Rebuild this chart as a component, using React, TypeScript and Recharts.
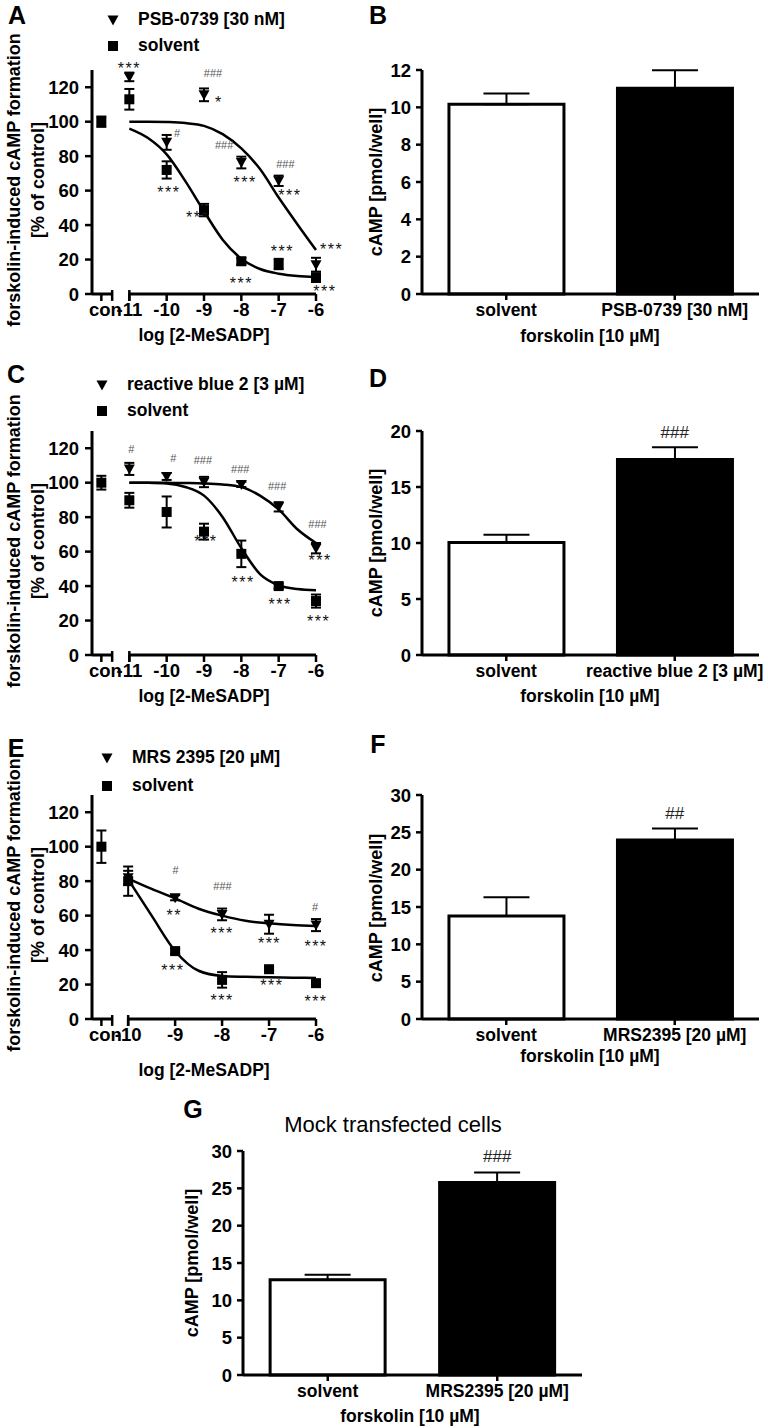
import React from 'react';
import {
  ComposedChart, BarChart, Bar, Cell, Line, Scatter, XAxis, YAxis,
  ErrorBar, ReferenceLine, ReferenceDot,
} from 'recharts';

const FONT = '"Liberation Sans", Arial, Helvetica, sans-serif';

type Anno = [number, number, string];

// ---- A: 2-MeSADP curve, PSB-0739 vs solvent ----
const concA = [-11, -10, -9, -8, -7, -6];
const psbMeanA = [126, 88, 115.6, 76.3, 65.7, 17];
const psbErrA = [2.5, 4.3, 3.7, 3.4, 3, 4];
const solMeanA = [113, 72, 48.7, 19, 17.4, 9.5];
const solErrA = [6, 5, 3.6, 2, 3, 2.5];
const ctrlA = [100];
const ctrlErrA = [3];
const fitXA = [-11, -10.5, -10, -9.5, -9, -8.5, -8, -7.5, -7, -6.5, -6];
const psbFitA = [100, 100, 99.8, 99.2, 97.6, 92.8, 84.5, 72.5, 56, 40.5, 25.5];
const solFitA = [96, 90.5, 81, 65.5, 48, 31.5, 20.5, 14.5, 11.8, 10.5, 10];
const annosA: Anno[] = [
  [-11, 133, '***'], [-8.76, 128.5, '###'], [-8.6, 113, '*'], [-9.72, 93.7, '#'],
  [-8.46, 86.6, '###'], [-7.9, 66.7, '***'], [-6.82, 75.7, '###'], [-6.7, 59.5, '***'],
  [-9.94, 61, '***'], [-9.17, 46.4, '***'], [-6.9, 27, '***'], [-8.0, 8.1, '***'],
  [-5.58, 28, '***'], [-5.76, 3.5, '***'],
];

// ---- C: reactive blue 2 vs solvent ----
const concC = [-11, -10, -9, -8, -7, -6];
const rbMeanC = [108, 103.6, 100.4, 99, 86, 62];
const rbErrC = [3.5, 2, 3, 1.5, 2.7, 3];
const solMeanC = [89.8, 83, 71.6, 58.7, 40, 31.3];
const solErrC = [4.3, 9, 4.6, 7.7, 1.5, 3.8];
const ctrlC = [100];
const ctrlErrC = [4];
const fitXC = [-11, -10.5, -10, -9.5, -9, -8.5, -8, -7.5, -7, -6.5, -6];
const rbFitC = [100, 100, 99.9, 99.8, 99.6, 99, 97.5, 92.5, 84.5, 73, 65];
const solFitC = [100, 99.9, 99.5, 97.5, 92.5, 80, 62, 47, 40.5, 38.3, 37.6];
const annosC: Anno[] = [
  [-10.95, 119.6, '#'], [-9.82, 114.4, '#'], [-9.03, 112.9, '###'], [-8.03, 108, '###'],
  [-7.04, 97.9, '###'], [-5.96, 75.8, '###'], [-8.95, 67.8, '***'], [-7.95, 44.3, '***'],
  [-5.89, 57.2, '***'], [-6.96, 31.3, '***'], [-5.93, 21.3, '***'],
];

// ---- E: MRS 2395 vs solvent ----
const concE = [-10, -9, -8, -7, -6];
const mrsMeanE = [82, 70.4, 60.7, 55, 54.5];
const mrsErrE = [4, 1.5, 3.4, 5.5, 3.5];
const solMeanE = [80, 39.4, 22.7, 28.9, 20.8];
const solErrE = [8.5, 1.5, 4.5, 1, 1];
const ctrlE = [100];
const ctrlErrE = [9.4];
const fitXE = [-10, -9.5, -9, -8.5, -8, -7.5, -7, -6.5, -6];
const mrsFitE = [81.5, 75.5, 70, 64, 60, 57, 55.5, 54.5, 54];
const solFitE = [81, 60, 39.5, 28, 25, 24.5, 24.2, 24, 23.8];
const annosE: Anno[] = [
  [-8.99, 86.2, '#'], [-9.02, 62.1, '**'], [-7.99, 77.1, '###'], [-8.0, 51.5, '***'],
  [-6.99, 45.8, '***'], [-6.02, 65, '#'], [-6, 44.2, '***'], [-9.05, 30.4, '***'],
  [-6.94, 21.7, '***'], [-8, 13.1, '***'], [-6, 12.1, '***'],
];

const doseTicksY = [0, 20, 40, 60, 80, 100, 120];

// ---- bar panels ----
const catsB = ['solvent', 'PSB-0739 [30 nM]'];
const valsB = [10.17, 11.02];
const errsB = [0.57, 0.96];
const ticksB = [0, 2, 4, 6, 8, 10, 12];

const catsD = ['solvent', 'reactive blue 2 [3 µM]'];
const valsD = [10.05, 17.45];
const errsD = [0.68, 1.1];
const ticksD = [0, 5, 10, 15, 20];

const catsF = ['solvent', 'MRS2395 [20 µM]'];
const valsF = [13.8, 23.96];
const errsF = [2.5, 1.55];
const ticksF = [0, 5, 10, 15, 20, 25, 30];

const catsG = ['solvent', 'MRS2395 [20 µM]'];
const valsG = [12.76, 25.78];
const errsG = [0.67, 1.33];
const ticksG = [0, 5, 10, 15, 20, 25, 30];

const tickStyle = { fontSize: 18.5, fontWeight: 'bold', fill: '#000', fontFamily: FONT };
const axisLine = { stroke: '#000', strokeWidth: 3 };
const tickLine = { stroke: '#000', strokeWidth: 2.5 };

function TriDown(p: any) {
  const { cx, cy } = p;
  if (cx == null || cy == null) return null;
  return <path d={`M${cx - 5.5},${cy - 4.5}L${cx + 5.5},${cy - 4.5}L${cx},${cy + 5.5}Z`} fill="#000" />;
}

function Sq(p: any) {
  const { cx, cy } = p;
  if (cx == null || cy == null) return null;
  return <rect x={cx - 5} y={cy - 5} width={10} height={10} fill="#000" />;
}

// "con" sits a little right so its n hides the minus of the first dose label
function DoseTick(p: any) {
  const { x, y, payload, conX } = p;
  const isCon = payload.value === conX;
  return (
    <text x={x + (isCon ? 4 : 0)} y={y} dy="0.71em" textAnchor="middle" {...tickStyle}>
      {isCon ? 'con' : String(payload.value)}
    </text>
  );
}

function annoShape(text: string, big = false) {
  return (p: any) => {
    const hash = text[0] === '#';
    const size = big ? 17 : hash ? 11 : 16;
    return (
      <text x={p.cx} y={p.cy} dy={hash ? 0 : '0.23em'} textAnchor="middle" dominantBaseline="central"
        fontFamily={FONT} fontSize={size} letterSpacing={hash ? 0 : 1.5} fill={big ? '#222' : hash ? '#555' : '#111'}>
        {text}
      </text>
    );
  };
}

function Txt({ x, y, children, size = 17.5, weight = 'bold', rotate = false, color = '#000' }: any) {
  return (
    <div style={{
      position: 'absolute', left: x, top: y, transform: `translate(-50%, -50%)${rotate ? ' rotate(-90deg)' : ''}`,
      fontSize: size, fontWeight: weight, fontFamily: FONT, whiteSpace: 'nowrap', lineHeight: 1, color,
    }}>{children}</div>
  );
}

function LegendRow({ x, y, label, kind }: { x: number; y: number; label: string; kind: 'tri' | 'sq' }) {
  return (
    <>
      <svg style={{ position: 'absolute', left: x - 7, top: y - 7 }} width={14} height={14}>
        {kind === 'tri'
          ? <path d="M1.5,2.5L12.5,2.5L7,12.5Z" fill="#000" />
          : <rect x={2} y={2} width={10} height={10} fill="#000" />}
      </svg>
      <div style={{
        position: 'absolute', left: x + 25, top: y, transform: 'translateY(-50%)', fontSize: 17.5,
        fontWeight: 'bold', fontFamily: FONT, whiteSpace: 'nowrap', lineHeight: 1,
      }}>{label}</div>
    </>
  );
}

interface DoseProps {
  top: number; xMin: number; conX: number; conEnd: number; mainStart: number;
  conc: number[]; triMean: number[]; triErr: number[]; sqMean: number[]; sqErr: number[];
  ctrl: number[]; ctrlErr: number[]; fitX: number[]; triFit: number[]; sqFit: number[]; annos: Anno[];
}

function DosePanel(props: DoseProps) {
  const { top, xMin, conX, conEnd, mainStart, conc, triMean, triErr, sqMean, sqErr, ctrl, ctrlErr, fitX, triFit, sqFit, annos } = props;
  const triPts = conc.map((x, i) => ({ x, y: triMean[i], e: triErr[i] }));
  const sqPts = [{ x: conX, y: ctrl[0], e: ctrlErr[0] }, ...conc.map((x, i) => ({ x, y: sqMean[i], e: sqErr[i] }))];
  const triLine = fitX.map((x, i) => ({ x, y: triFit[i] }));
  const sqLine = fitX.map((x, i) => ({ x, y: sqFit[i] }));
  return (
    <div style={{ position: 'absolute', left: 0, top, width: 370, height: 330 }}>
      <ComposedChart width={370} height={330} margin={{ top: 70, right: 54, bottom: 6, left: 42 }}>
        <XAxis dataKey="x" type="number" domain={[xMin, -6]} ticks={[conX, ...conc]} interval={0}
          axisLine={false} tickLine={tickLine} tickSize={7} tickMargin={2} height={30}
          tick={(p: any) => <DoseTick {...p} conX={conX} />} />
        <YAxis dataKey="y" type="number" domain={[0, 130]} ticks={doseTicksY} interval={0} width={50}
          axisLine={axisLine} tickLine={tickLine} tickSize={7} tickMargin={6} tick={tickStyle} />
        <ReferenceLine segment={[{ x: xMin, y: 0 }, { x: conEnd, y: 0 }]} stroke="#000" strokeWidth={3} ifOverflow="visible" />
        <ReferenceLine segment={[{ x: conEnd, y: -4 }, { x: conEnd, y: 2.3 }]} stroke="#000" strokeWidth={2.5} ifOverflow="visible" />
        <ReferenceLine segment={[{ x: mainStart, y: 0 }, { x: -6, y: 0 }]} stroke="#000" strokeWidth={3} ifOverflow="visible" />
        <ReferenceLine segment={[{ x: mainStart, y: -4 }, { x: mainStart, y: 2.3 }]} stroke="#000" strokeWidth={2.5} ifOverflow="visible" />
        <Line data={triLine} dataKey="y" type="monotone" dot={false} stroke="#000" strokeWidth={2.5} isAnimationActive={false} />
        <Line data={sqLine} dataKey="y" type="monotone" dot={false} stroke="#000" strokeWidth={2.5} isAnimationActive={false} />
        <Scatter data={triPts} dataKey="y" shape={TriDown} isAnimationActive={false}>
          <ErrorBar dataKey="e" direction="y" width={5} stroke="#000" strokeWidth={2} />
        </Scatter>
        <Scatter data={sqPts} dataKey="y" shape={Sq} isAnimationActive={false}>
          <ErrorBar dataKey="e" direction="y" width={5} stroke="#000" strokeWidth={2} />
        </Scatter>
        {annos.map(([x, y, t], i) => (
          <ReferenceDot key={i} x={x} y={y} r={0} ifOverflow="visible" shape={annoShape(t)} />
        ))}
      </ComposedChart>
    </div>
  );
}

interface BarProps {
  left: number; top: number; width: number; marginLeft: number; marginRight: number;
  cats: string[]; vals: number[]; errs: number[]; ticks: number[]; mark?: string; markY?: number;
}

function BarPanel({ left, top, width, marginLeft, marginRight, cats, vals, errs, ticks, mark, markY }: BarProps) {
  const rows = cats.map((name, i) => ({ name, v: vals[i], e: [0, errs[i]] }));
  return (
    <div style={{ position: 'absolute', left, top, width, height: 330 }}>
      <BarChart width={width} height={330} data={rows} barCategoryGap="16%"
        margin={{ top: 70, right: marginRight, bottom: 6, left: marginLeft }}>
        <XAxis dataKey="name" interval={0} height={30} axisLine={axisLine} tickLine={tickLine} tickSize={6} tickMargin={4}
          tick={{ ...tickStyle, fontSize: 17.5 }} />
        <YAxis type="number" domain={[0, ticks[ticks.length - 1]]} ticks={ticks} interval={0} width={50}
          axisLine={axisLine} tickLine={tickLine} tickSize={6} tickMargin={5} tick={tickStyle} />
        <Bar dataKey="v" stroke="#000" strokeWidth={3} isAnimationActive={false}>
          {rows.map((r, i) => <Cell key={r.name} fill={i === 0 ? '#fff' : '#000'} />)}
          <ErrorBar dataKey="e" direction="y" width={23} stroke="#000" strokeWidth={2} />
        </Bar>
        {mark && markY != null && (
          <ReferenceDot x={cats[1]} y={markY} r={0} ifOverflow="visible" shape={annoShape(mark, true)} />
        )}
      </BarChart>
    </div>
  );
}

export default function App() {
  return (
    <div style={{ position: 'absolute', left: 0, top: 0, width: 768, height: 1428, background: '#fff', overflow: 'hidden', fontFamily: FONT }}>
      {/* A */}
      <DosePanel top={0} xMin={-12} conX={-11.75} conEnd={-11.46} mainStart={-11} conc={concA}
        triMean={psbMeanA} triErr={psbErrA} sqMean={solMeanA} sqErr={solErrA} ctrl={ctrlA} ctrlErr={ctrlErrA}
        fitX={fitXA} triFit={psbFitA} sqFit={solFitA} annos={annosA} />
      <Txt x={17} y={15} size={25}>A</Txt>
      <LegendRow x={113} y={20} label="PSB-0739 [30 nM]" kind="tri" />
      <LegendRow x={113} y={46} label="solvent" kind="sq" />
      <Txt x={14} y={180} size={18} rotate>forskolin-induced cAMP formation</Txt>
      <Txt x={38} y={180} size={18} rotate>[% of control]</Txt>
      <Txt x={204} y={336}>log [2-MeSADP]</Txt>

      {/* B */}
      <BarPanel left={370} top={0} width={398} marginLeft={2} marginRight={9} cats={catsB} vals={valsB} errs={errsB} ticks={ticksB} />
      <Txt x={378} y={15} size={25}>B</Txt>
      <Txt x={376} y={182} size={18} rotate>cAMP [pmol/well]</Txt>
      <Txt x={590} y={337}>forskolin [10 µM]</Txt>

      {/* C */}
      <DosePanel top={361} xMin={-12} conX={-11.75} conEnd={-11.46} mainStart={-11} conc={concC}
        triMean={rbMeanC} triErr={rbErrC} sqMean={solMeanC} sqErr={solErrC} ctrl={ctrlC} ctrlErr={ctrlErrC}
        fitX={fitXC} triFit={rbFitC} sqFit={solFitC} annos={annosC} />
      <Txt x={16} y={374} size={25}>C</Txt>
      <LegendRow x={102} y={385} label="reactive blue 2 [3 µM]" kind="tri" />
      <LegendRow x={102} y={411} label="solvent" kind="sq" />
      <Txt x={14} y={541} size={18} rotate>forskolin-induced cAMP formation</Txt>
      <Txt x={38} y={541} size={18} rotate>[% of control]</Txt>
      <Txt x={204} y={697}>log [2-MeSADP]</Txt>

      {/* D */}
      <BarPanel left={370} top={361} width={398} marginLeft={2} marginRight={9} cats={catsD} vals={valsD} errs={errsD} ticks={ticksD} mark="###" markY={19.9} />
      <Txt x={378} y={378} size={25}>D</Txt>
      <Txt x={376} y={543} size={18} rotate>cAMP [pmol/well]</Txt>
      <Txt x={590} y={697}>forskolin [10 µM]</Txt>

      {/* E */}
      <DosePanel top={725} xMin={-10.77} conX={-10.57} conEnd={-10.34} mainStart={-10} conc={concE}
        triMean={mrsMeanE} triErr={mrsErrE} sqMean={solMeanE} sqErr={solErrE} ctrl={ctrlE} ctrlErr={ctrlErrE}
        fitX={fitXE} triFit={mrsFitE} sqFit={solFitE} annos={annosE} />
      <Txt x={16} y={748} size={25}>E</Txt>
      <LegendRow x={107} y={758} label="MRS 2395 [20 µM]" kind="tri" />
      <LegendRow x={107} y={786} label="solvent" kind="sq" />
      <Txt x={14} y={905} size={18} rotate>forskolin-induced cAMP formation</Txt>
      <Txt x={38} y={905} size={18} rotate>[% of control]</Txt>
      <Txt x={204} y={1071}>log [2-MeSADP]</Txt>

      {/* F */}
      <BarPanel left={370} top={725} width={398} marginLeft={2} marginRight={9} cats={catsF} vals={valsF} errs={errsF} ticks={ticksF} mark="##" markY={27.5} />
      <Txt x={378} y={744} size={25}>F</Txt>
      <Txt x={376} y={908} size={18} rotate>cAMP [pmol/well]</Txt>
      <Txt x={590} y={1057}>forskolin [10 µM]</Txt>

      {/* G */}
      <BarPanel left={180} top={1081} width={420} marginLeft={13} marginRight={18} cats={catsG} vals={valsG} errs={errsG} ticks={ticksG} mark="###" markY={29.2} />
      <Txt x={193} y={1109} size={25}>G</Txt>
      <Txt x={393} y={1125} size={22} weight="normal">Mock transfected cells</Txt>
      <Txt x={192} y={1263} size={18} rotate>cAMP [pmol/well]</Txt>
      <Txt x={410} y={1417}>forskolin [10 µM]</Txt>
    </div>
  );
}
